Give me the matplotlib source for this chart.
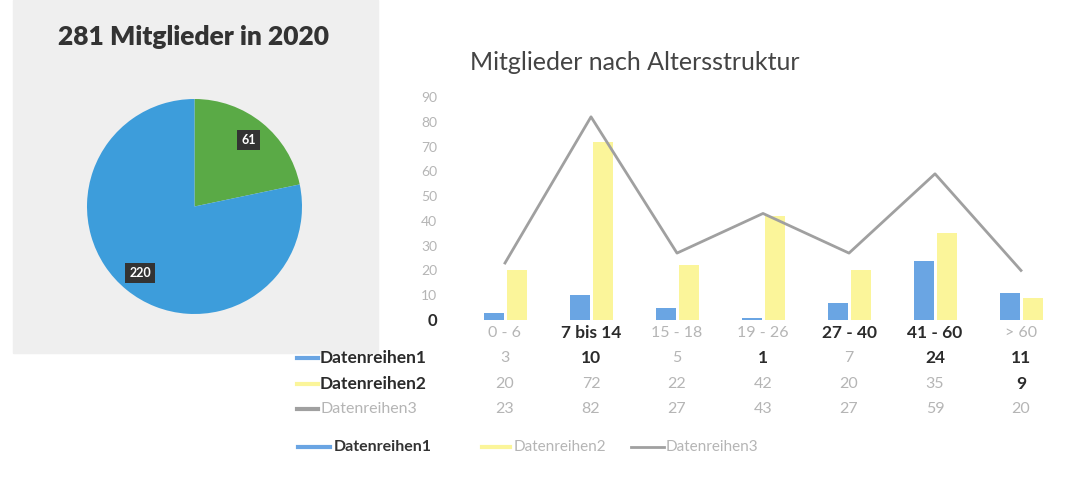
import numpy as np
import matplotlib.pyplot as plt
from matplotlib.transforms import blended_transform_factory
from matplotlib.patches import Rectangle
from matplotlib.lines import Line2D

plt.rcParams['font.family'] = ['Lato', 'DejaVu Sans']

# data
pie_values = [61, 220]
pie_colors = ['#5aaa46', '#3d9ddb']
categories = ['0 - 6', '7 bis 14', '15 - 18', '19 - 26', '27 - 40', '41 - 60', '> 60']
reihe1 = [3, 10, 5, 1, 7, 24, 11]
reihe2 = [20, 72, 22, 42, 20, 35, 9]
reihe3 = [23, 82, 27, 43, 27, 59, 20]
series_names = ['Datenreihen1', 'Datenreihen2', 'Datenreihen3']

blue = '#6aa5e3'
yellow = '#fbf59a'
grey = '#a0a0a0'
dark = '#2b2b2b'
faint = '#b5b5b5'

W, H = 1088, 492
fig = plt.figure(figsize=(W / 100, H / 100), dpi=100)

def px_axes(x0, y0, x1, y1, **kw):
    # axes from pixel box (top-left origin)
    return fig.add_axes([x0 / W, 1 - y1 / H, (x1 - x0) / W, (y1 - y0) / H], **kw)

# left panel background
fig.patches.append(Rectangle((13 / W, 1 - 353 / H), 365 / W, 353 / H,
                             transform=fig.transFigure, color='#efefef', zorder=-5))
fig.text(193 / W, 1 - 37 / H, '281 Mitglieder in 2020', ha='center', va='center',
         fontsize=19, fontweight='heavy', color='#333333')

ax_pie = px_axes(87, 99, 302, 314)
total = sum(pie_values)
wedges, texts, autotexts = ax_pie.pie(
    pie_values, colors=pie_colors, startangle=90, counterclock=False,
    autopct=lambda p: f'{round(p * total / 100)}', pctdistance=0.8,
    textprops=dict(color='white', fontsize=9, fontweight='bold'))
for t in autotexts:
    t.set_bbox(dict(facecolor='#333333', edgecolor='none', pad=3))
ax_pie.set_xlim(-1, 1)
ax_pie.set_ylim(-1, 1)
ax_pie.set_aspect('equal')

# bar / line chart
fig.text(470 / W, 1 - 62 / H, 'Mitglieder nach Altersstruktur', ha='left', va='center',
         fontsize=18, color='#444444')

ax = px_axes(462, 97, 1064, 320)
x = np.arange(len(categories))
bw = 0.24
ax.bar(x - 0.13, reihe1, width=bw, color=blue, zorder=2)
ax.bar(x + 0.14, reihe2, width=bw, color=yellow, zorder=2)
ax.plot(x, reihe3, color=grey, linewidth=2, zorder=3)
ax.set_xlim(-0.5, len(categories) - 0.5)
ax.set_ylim(0, 90)
ax.set_yticks(range(0, 91, 10))
ax.set_yticklabels([str(v) for v in range(0, 91, 10)], color=faint, fontsize=10)
ax.get_yticklabels()[0].set_color(dark)
ax.get_yticklabels()[0].set_fontweight('bold')
ax.get_yticklabels()[0].set_fontsize(12)
ax.set_xticks([])
ax.tick_params(length=0, pad=18)
for s in ax.spines.values():
    s.set_visible(False)

bold_cats = {'7 bis 14', '27 - 40', '41 - 60'}
tr = blended_transform_factory(ax.transData, fig.transFigure)
for i, c in enumerate(categories):
    if c in bold_cats:
        ax.text(i, 1 - 333 / H, c, transform=tr, ha='center', va='center',
                fontsize=12.5, fontweight='bold', color=dark)
    else:
        ax.text(i, 1 - 333 / H, c, transform=tr, ha='center', va='center',
                fontsize=11.5, color=faint)

# data table
rows = [reihe1, reihe2, reihe3]
row_y = [358, 384, 409]
key_colors = [blue, yellow, grey]
dark_cells = [{1, 3, 5, 6}, {6}, set()]
label_dark = [True, True, False]
for r, (vals, yy) in enumerate(zip(rows, row_y)):
    yf = 1 - yy / H
    fig.add_artist(Line2D([297 / W, 318 / W], [yf, yf], color=key_colors[r], lw=3))
    fig.text(320 / W, yf, series_names[r], ha='left', va='center',
             fontsize=12.5 if label_dark[r] else 11.5,
             fontweight='bold' if label_dark[r] else 'normal',
             color=dark if label_dark[r] else faint)
    for i, v in enumerate(vals):
        d = i in dark_cells[r]
        ax.text(i, yf, str(v), transform=tr, ha='center', va='center',
                fontsize=12.5 if d else 11.5, fontweight='bold' if d else 'normal',
                color=dark if d else faint)

# legend
ly = 1 - 447 / H
fig.add_artist(Line2D([298 / W, 330 / W], [ly, ly], color=blue, lw=3))
fig.text(334 / W, ly, 'Datenreihen1', ha='left', va='center', fontsize=11.5,
         fontweight='bold', color='#333333')
fig.add_artist(Line2D([482 / W, 510 / W], [ly, ly], color=yellow, lw=3))
fig.text(514 / W, ly, 'Datenreihen2', ha='left', va='center', fontsize=11, color=faint)
fig.add_artist(Line2D([631 / W, 664 / W], [ly, ly], color=grey, lw=2))
fig.text(666 / W, ly, 'Datenreihen3', ha='left', va='center', fontsize=11, color=faint)

fig.savefig('out.png', dpi=100, facecolor='white')
